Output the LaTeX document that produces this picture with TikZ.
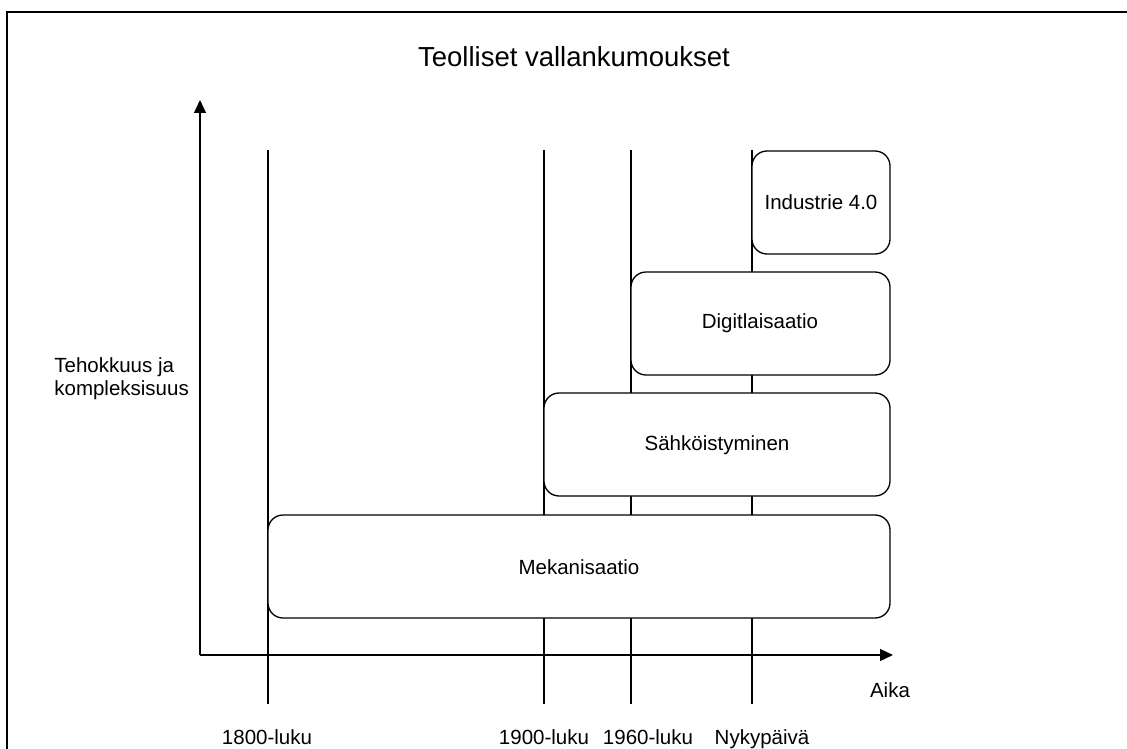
\documentclass[tikz,border=0pt]{standalone}
\usepackage{fontspec}
\setmainfont{Liberation Sans}
\usetikzlibrary{arrows.meta}
\begin{document}
\begin{tikzpicture}[x=1pt,y=-1pt,
  ln/.style={line width=1.3pt,black},
  era/.style={draw,line width=1.3pt,rounded corners=15pt,fill=white},
  lbl/.style={font=\fontsize{20.5}{24}\selectfont,inner sep=0pt},
  tick/.style={lbl,anchor=base},
  axarrow/.style={ln,-{Triangle[length=13pt,width=12pt]}}]
\useasboundingbox (0,0) rectangle (1127,749);
% outer frame (open on right and bottom)
\coordinate (fbl) at (7,749);
\coordinate (ftl) at (7,12);
\coordinate (ftr) at (1127,12);
\draw[ln] (fbl) -- (ftl) -- (ftr);
% title
\node[font=\fontsize{27.5}{32}\selectfont,inner sep=0pt] (title) at (574,57) {Teolliset vallankumoukset};
% axes
\coordinate (o) at (200,655);
\coordinate (ytip) at (200,100);
\coordinate (xtip) at (893,655);
\draw[axarrow] (o) -- (ytip);
\draw[axarrow] (o) -- (xtip);
% vertical era lines
\foreach \n/\x in {a/268,b/544,c/631,d/752}{
  \coordinate (\n top) at (\x,150);
  \coordinate (\n bot) at (\x,704);
  \draw[ln] (\n top) -- (\n bot);
}
% boxes
\draw[era] (752,151) rectangle (890,254);
\node[lbl] (ind) at (821,202) {Industrie 4.0};
\draw[era] (631,272) rectangle (890,375);
\node[lbl] (dig) at (760,323) {Digitlaisaatio};
\draw[era] (544,393) rectangle (890,496);
\node[lbl] (sah) at (717,445) {Sähköistyminen};
\draw[era] (268,515) rectangle (890,618);
\node[lbl] (mek) at (579,567) {Mekanisaatio};
% labels
\node[tick] (l1) at (267,744) {1800-luku};
\node[tick] (l2) at (544,744) {1900-luku};
\node[tick] (l3) at (648,744) {1960-luku};
\node[tick] (l4) at (762,744) {Nykypäivä};
\node[tick] (aika) at (890,697) {Aika};
\node[lbl,anchor=east,align=left,font=\fontsize{20.5}{23}\selectfont] (ylab) at (189,379) {Tehokkuus ja\\kompleksisuus};
\end{tikzpicture}
\end{document}
